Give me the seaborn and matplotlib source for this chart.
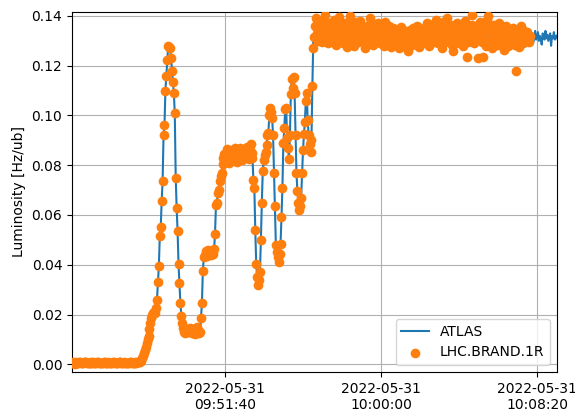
import matplotlib
matplotlib.use("Agg")
import matplotlib.pyplot as plt
import matplotlib.dates as mdates
from matplotlib.ticker import FixedLocator
import seaborn as sns
import numpy as np
import pandas as pd

# ----------------------------------------
# Luminosity data (values in 1e-3 Hz/ub), one sample every 3 s
# ----------------------------------------
start_time = "2022-05-31 09:43:20"
step_seconds = 3
tick_times = ["2022-05-31 09:51:40", "2022-05-31 10:00:00", "2022-05-31 10:08:20"]
x_range = ["2022-05-31 09:43:29.600", "2022-05-31 10:09:24.000"]
y_range = [-0.0031, 0.1416]

# ramp-up seen by both instruments (before stable beams)
ramp_milli = [
    # baseline before injection
    0.6, 0.4, 0.7, 0.5, 0.8, 0.6, 0.3, 0.7, 0.9, 0.5,
    0.6, 0.8, 1.0, 0.7, 0.5, 0.6, 0.9, 1.1, 0.8, 0.6,
    0.7, 0.5, 0.4, 0.6, 0.8, 0.7, 0.9, 0.6, 0.5, 0.7,
    1.0, 0.8, 0.6, 0.4, 0.5, 0.7, 0.6, 0.8, 0.9, 0.7,
    0.5, 0.6, 0.8, 0.7, 0.4, 0.5, 0.7, 0.9, 0.8, 0.6,
    0.5, 0.7, 0.6, 0.8, 1.0, 0.9, 0.7, 0.5, 0.6, 0.8,
    0.7, 0.5, 0.4, 0.6, 0.7, 0.9, 0.8, 0.6, 0.5, 0.7,
    0.8, 0.6, 0.7, 0.9, 1.0, 0.8,
    # slow rise
    1.0, 1.5, 2.4, 3.4, 4.5, 5.6, 7.0, 8.4, 10.0, 11.5,
    14.0, 16.5, 18.5, 20.0, 20.5, 21.0, 20.8, 22.5,
    # first peak
    26, 33, 39.5, 51.5, 55, 65.5, 73.5, 92, 96, 110,
    116, 122.5, 128, 127.5, 127, 123,
    118, 113.5, 109, 101, 75, 63, 53.5, 40.5, 32.5, 24.5,
    # trough
    19.5, 16.5, 14.5, 13.0, 12.5, 13.5, 14.0, 12.8, 13.2, 14.6,
    13.8, 12.6, 13.0, 14.2, 13.5, 12.2, 13.4, 14.8, 13.6, 12.4, 13.0,
    # step to ~0.045
    18.5, 24.5, 37.5, 43,
    44, 45.5, 43.5, 44.8, 46, 44.2, 45, 43.8, 45.6, 44.5, 46.2,
    # step to ~0.084
    52.5, 64, 65, 69, 70, 73.5, 75.5, 77,
    80.5, 83, 84.5, 82, 85, 86.5, 83.5, 81, 84, 86,
    85.5, 82.5, 84, 86.8, 85, 83, 81.5, 84.5, 86, 87,
    84, 82, 85.5, 86.5, 83.5, 85, 87.5, 84, 82.5, 86,
    88.5, 85, 83,
    # oscillations
    74, 71, 54, 40.5, 35, 32, 34, 37, 50, 65,
    77.5, 82, 84, 85.5, 88, 92, 93, 100, 103, 101.5,
    99, 92, 77, 63.5, 48, 45, 43, 41, 44.5, 48.5,
    59, 71, 89, 95, 102.5, 103, 91, 87, 82.5, 92,
    108.5, 114.5, 111, 115.5, 109, 92, 77, 69.5, 65, 62,
    63.5, 67, 77, 86, 92.5, 97.5, 106, 109, 98, 92,
    88.5, 85.5, 90, 112,
]

# stable beams: BRAN readings are noisy
brand_plateau_milli = [
    127, 131.5, 136, 139, 133, 130, 135, 137.5, 132, 129.5,
    134, 138, 140.5, 133.5, 131, 136.5, 129, 133, 137, 135,
    130.5, 132.5, 138.5, 134, 128.5, 131, 136, 139.5, 133, 130,
    135.5, 132, 129, 134.5, 137, 131.5, 127.5, 133, 136.5, 140,
    134, 130, 132.5, 135, 128, 131, 137.5, 133.5, 129.5, 134.5,
    138, 132, 130.5, 135.5, 133, 127, 131.5, 136, 134, 130,
    132.5, 139, 135, 131, 128.5, 133.5, 136.5, 130, 134, 137,
    131, 129, 133, 135.5, 132, 128, 134.5, 137.5, 131.5, 130,
    133, 136, 130.5, 127.5, 132, 135, 129, 131.5, 134, 128.5,
    132.5, 130, 127, 133, 135.5, 131, 128, 130.5, 134, 132,
    129.5, 126, 131, 134.5, 130, 128.5, 132.5, 135, 131, 129,
    133.5, 136, 130, 127.5, 132, 134, 131.5, 129, 135, 133,
    130.5, 137, 134.5, 131, 128, 132.5, 136.5, 133, 129.5, 131,
    135, 138.5, 132, 129, 134, 136, 130.5, 127, 133.5, 137.5,
    131.5, 129.5, 134.5, 139, 135, 130, 132, 136.5, 128.5, 126,
    131, 135.5, 133, 129, 137, 134, 130, 130.5, 136, 132.5,
    128, 134.5, 138, 131, 123.5, 129.5, 135, 133, 130, 136.5,
    140.5, 133.5, 129, 132, 135.5, 131, 123, 134, 137.5, 132,
    129.5, 123.5, 136, 130.5, 128, 134.5, 138.5, 140, 129, 135,
    133, 127, 131, 136.5, 134, 130, 128.5, 133.5, 137, 131,
    129, 132.5, 135.5, 130, 126.5, 133, 136, 131.5, 128, 134,
    130.5, 133.5, 129, 135, 132, 128.5, 131, 118, 134.5, 130,
    127.5, 133, 136, 131.5, 129, 134, 132, 130.5, 133.5, 131,
    129.5, 132,
]

# stable beams: ATLAS is smoother and keeps logging after BRAN stops
atlas_plateau_milli = [
    130, 131.5, 132.5, 131, 132, 133, 131.5, 130.5, 132, 131,
    132.5, 131, 130, 131.5, 133, 132, 131, 132.5, 131.5, 130.5,
    131, 132.5, 133.5, 132, 130.5, 131.5, 132, 131, 133, 132,
    131.5, 130, 131, 132.5, 131.5, 133, 132, 130.5, 131.5, 132.5,
    132, 131, 130.5, 132, 133.5, 131.5, 131, 132, 130, 131.5,
    133, 132, 131, 131.5, 132.5, 130.5, 131, 132, 133, 131.5,
    130.5, 132, 131.5, 133, 132, 131, 130, 131.5, 132.5, 131,
    132, 133.5, 131.5, 130.5, 131, 132.5, 131.5, 132, 130.5, 131,
    131.5, 132.5, 133, 131, 130, 131.5, 132, 131, 132.5, 133,
    131, 130.5, 132, 131.5, 133, 132, 130.5, 131, 132, 131.5,
    132.5, 131, 130, 131.5, 132, 133, 131.5, 130.5, 132, 131,
    131, 132.5, 131.5, 130.5, 132, 133.5, 132, 131, 130.5, 131.5,
    132, 131, 132.5, 133, 131.5, 130, 131, 132.5, 131.5, 132,
    130.5, 131.5, 133, 132, 131, 132.5, 131.5, 130.5, 132, 133,
    131.5, 130, 131, 132.5, 132, 131, 133, 131.5, 130.5, 132,
    132.5, 131, 131.5, 130.5, 132, 133.5, 131, 132, 131.5, 130,
    131, 132.5, 133, 131.5, 130.5, 132, 131, 132.5, 131.5, 133,
    132, 130.5, 131.5, 132.5, 131, 130, 132, 133, 131.5, 131,
    130.5, 132, 133.5, 131, 132, 131.5, 130, 132.5, 131.5, 132,
    131, 132.5, 131.5, 130.5, 133, 132, 131, 131.5, 132.5, 130.5,
    132, 131, 133, 132.5, 131, 130, 131.5, 132, 133, 131.5,
    131, 132.5, 130.5, 131.5, 132, 133, 131, 130.5, 132.5, 131.5,
    132, 131, 132.5, 130.5, 131.5, 133, 132, 131, 130, 132,
    131.5, 130, 132.5, 131, 133, 129.5, 132, 134, 130.5, 131.5,
    133.5, 130, 132, 131, 128.5, 133, 132, 130.5, 134, 131,
    132.5, 130, 131.5, 133, 128, 132, 131, 133.5, 130.5, 132,
    131, 132.5,
]

brand_lumi = np.array(ramp_milli + brand_plateau_milli) / 1000
atlas_lumi = np.array(ramp_milli + atlas_plateau_milli) / 1000
atlas_time = pd.date_range(start_time, periods=len(atlas_lumi), freq=f"{step_seconds}s")
brand_time = atlas_time[: len(brand_lumi)]

atlas_df = pd.DataFrame({"time": atlas_time, "lumi": atlas_lumi})
brand_df = pd.DataFrame({"time": brand_time, "lumi": brand_lumi})

# ----------------------------------------
# Plot
# ----------------------------------------
fig, ax = plt.subplots(figsize=(5.75, 4.09), dpi=100)
fig.subplots_adjust(left=0.1252, right=0.9687, top=0.9707, bottom=0.0905)

sns.lineplot(data=atlas_df, x="time", y="lumi", ax=ax, color="C0",
             linewidth=1.5, label="ATLAS", errorbar=None)
sns.scatterplot(data=brand_df, x="time", y="lumi", ax=ax, color="C1",
                s=49, linewidth=0, label="LHC.BRAND.1R", zorder=3)

ax.set_xlim(pd.to_datetime(x_range, format="ISO8601"))
ax.set_ylim(y_range)
ax.xaxis.set_major_locator(FixedLocator(mdates.date2num(pd.to_datetime(tick_times))))
ax.xaxis.set_major_formatter(mdates.DateFormatter("%Y-%m-%d\n%H:%M:%S"))
ax.set_xlabel("")
ax.set_ylabel("Luminosity [Hz/ub]")
ax.grid(True)
ax.legend(loc="lower right")

plt.savefig("out.png", dpi=100)
